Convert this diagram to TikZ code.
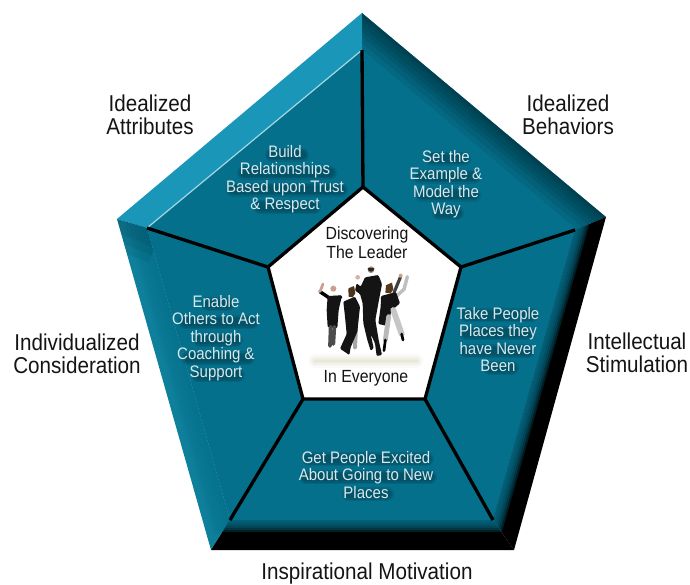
\documentclass[tikz,border=0pt]{standalone}
\usepackage{fontspec}
\setmainfont[FakeStretch=0.9]{Liberation Sans}
\definecolor{face}{HTML}{05708C}
\definecolor{leftbev}{HTML}{0F809C}
\definecolor{topleft}{HTML}{1A96B9}
\definecolor{glint}{HTML}{A5D6E2}
\definecolor{paneltext}{HTML}{D8E8EC}
\definecolor{labeltext}{HTML}{141414}
\definecolor{skin}{HTML}{C9A08C}
\tikzset{
  outerlabel/.style={font=\fontsize{17.2}{17.25}\selectfont,text=labeltext,align=center,inner sep=0pt},
  paneltxt/.style={font=\fontsize{12.5}{13.1}\selectfont,text=paneltext,align=center,inner sep=0pt},
  centertxt/.style={font=\fontsize{13.2}{14}\selectfont,text=labeltext,align=center,inner sep=0pt},
  spoke/.style={draw=black,line width=2.5pt},
  suit/.style={fill=black!92,draw=none,rounded corners=0.8pt},
}
\newcommand{\halo}[3]{% x1 x2 y
  \foreach \w in {14,11,8}{\draw[line width=\w*0.75pt,line cap=round,black,opacity=.09] (#1+2,#3+2) -- (#2+2,#3+2);}
}
\begin{document}
\begin{tikzpicture}[x=0.75pt,y=-0.75pt]
\useasboundingbox (0,0) rectangle (690,585);
% outer pentagon
\coordinate (T) at (362,13);
\coordinate (R) at (606,217);
\coordinate (BR) at (514,550);
\coordinate (BL) at (211,550);
\coordinate (L) at (117,219);
% face corners
\coordinate (t) at (362,50);
\coordinate (r) at (575,230);
\coordinate (br) at (493,520);
\coordinate (bl) at (230,520);
\coordinate (l) at (147,228);
% centre corners
\coordinate (ct) at (363,187);
\coordinate (cr) at (461,267);
\coordinate (cbr) at (425,399);
\coordinate (cbl) at (303,399);
\coordinate (cl) at (268,267);
% face and upper right bevel share one colour
\fill[face] (T) -- (R) -- (r) -- (br) -- (bl) -- (l) -- (t) -- cycle;
% top left bevel
\fill[topleft] (L) -- (T) -- (t) -- (l) -- cycle;
% left bevel
\fill[leftbev] (L) -- (l) -- (bl) -- (BL) -- cycle;
\begin{scope}
  \clip (L) -- (l) -- (bl) -- (BL) -- cycle;
  \foreach \w in {40,35,30,25,20,15,10,5}{\draw[line width=\w*0.75pt,face,opacity=.16] (142,210) -- (232,530);}
  \foreach \w in {60,44,28}{\draw[line width=\w*0.75pt,black,opacity=.05] (105,212) -- (160,235);}
\end{scope}
% black bevels fading in from the face
\fill[black] (BL) -- (bl) -- (br) -- (BR) -- cycle;
\fill[black] (BR) -- (br) -- (r) -- (R) -- cycle;
\begin{scope}
  \clip (BL) -- (bl) -- (br) -- (BR) -- cycle;
  \foreach \w in {24,20,16,12,8,4}{\draw[line width=\w*0.75pt,face,opacity=.28] (205,520) -- (520,520);}
\end{scope}
\begin{scope}
  \clip (BR) -- (br) -- (r) -- (R) -- cycle;
  \foreach \w in {24,20,16,12,8,4}{\draw[line width=\w*0.75pt,face,opacity=.28] (586,192) -- (483,555);}
\end{scope}
% dark edge of the upper right bevel
\begin{scope}
  \clip (T) -- (R) -- (r) -- (t) -- cycle;
  \foreach \w in {56,46,36,28,20,12,6}{\draw[line width=\w*0.75pt,black,opacity=.07] (T) -- (R);}
\end{scope}
\draw[glint,line width=0.9pt] (l) -- (t);
% text halos
\halo{270}{300}{153}\halo{242}{328}{171}\halo{231}{339}{188}\halo{258}{312}{205}
\halo{430}{462}{157}\halo{418}{472}{175}\halo{420}{472}{193}\halo{437}{455}{211}
\halo{206}{226}{302}\halo{183}{250}{320}\halo{198}{234}{338}\halo{186}{246}{356}\halo{196}{236}{373}
\halo{464}{530}{313}\halo{464}{526}{331}\halo{464}{526}{349}\halo{488}{510}{366}
\halo{307}{425}{457}\halo{304}{428}{475}\halo{347}{385}{492}
% spokes
\draw[spoke] (ct) -- (t);
\draw[spoke] (cl) -- (l);
\draw[spoke] (cr) -- (r);
\draw[spoke] (cbr) -- (br);
\draw[spoke] (cbl) -- (bl);
% centre
\filldraw[fill=white,draw=black,line width=2.5pt,line join=miter] (ct) -- (cr) -- (cbr) -- (cbl) -- (cl) -- cycle;
% jumping people, in the 3x crop's coordinates
\begin{scope}[shift={(310,260)},x=0.25pt,y=-0.25pt]
  \foreach \o/\h in {.05/40,.05/30,.06/22,.07/14,.07/7}{\draw[line width=\h*0.25pt,yellow!30!gray,opacity=\o,line cap=round] (15,303) -- (320,303);}
  % right woman
  \draw[gray!50,line width=2.6pt,line cap=round,line join=round] (292,50) -- (282,88) -- (255,112);
  \draw[black!75,line width=2.4pt,line cap=round] (271,52) -- (252,98);
  \fill[skin] (272,47) circle (6);
  \fill[skin] (238,80) circle (9);
  \fill[black!55!brown] (228,76) -- (246,68) -- (250,88) -- (242,100) -- (226,98) -- cycle;
  \fill[suit] (213,108) -- (258,96) -- (270,130) -- (244,152) -- (234,198) -- (205,192) -- (212,140) -- cycle;
  \draw[gray!45,line width=4.4pt,line cap=round] (250,150) -- (275,222);
  \draw[gray!55,line width=3.6pt,line cap=round] (236,170) -- (226,240);
  \draw[black,line width=2pt,line cap=round] (275,222) -- (279,240);
  \draw[black,line width=2pt,line cap=round] (226,240) -- (222,272);
  % left woman
  \fill[skin] (70,86) circle (9);
  \draw[black,line width=2.6pt,line cap=round,line join=round] (30,95) -- (58,114) -- (92,112);
  \draw[skin,line width=2pt,line cap=round] (39,72) -- (30,95);
  \fill[suit] (53,108) -- (96,106) -- (86,150) -- (82,204) -- (53,202) -- (50,150) -- cycle;
  \draw[black!70,line width=2.8pt,line cap=round] (62,200) -- (60,258);
  \draw[black!70,line width=2.8pt,line cap=round] (73,200) -- (70,252);
  % middle woman
  \draw[gray!70,line width=3pt,line cap=round] (138,200) -- (135,262);
  \fill[skin] (125,90) circle (10);
  \fill[black!60!brown] (115,86) -- (132,78) -- (136,100) -- (128,112) -- (116,110) -- cycle;
  \fill[suit] (100,125) -- (135,110) -- (150,140) -- (142,215) -- (122,262) -- (118,285) -- (90,266) -- (110,222) -- (105,170) -- cycle;
  % leader
  \fill[suit] (165,52) -- (205,45) -- (216,72) -- (206,125) -- (196,180) -- (206,240) -- (216,285) -- (200,288) -- (195,250) -- (182,222) -- (191,265) -- (182,272) -- (172,240) -- (160,190) -- (158,130) -- (150,102) -- (135,92) -- (140,70) -- (152,80) -- cycle;
  \fill[skin!80] (143,52) circle (7);
  \fill[skin!80!black] (183,29) circle (10);
  \fill[black!85] (173,24) arc[start angle=180,end angle=0,x radius=10,y radius=11] -- cycle;
\end{scope}
% labels
\node[centertxt] (cTop) at (367,242.5) {Discovering\\The Leader};
\node[centertxt] (cBot) at (366,378) {In Everyone};
\node[paneltxt] (p1) at (285,179) {Build\\Relationships\\Based upon Trust\\\& Respect};
\node[paneltxt] (p2) at (446,184) {Set the\\Example \&\\Model the\\Way};
\node[paneltxt] (p3) at (216,338) {Enable\\Others to Act\\through\\Coaching \&\\Support};
\node[paneltxt] (p4) at (498,339.5) {Take People\\Places they\\have Never\\Been};
\node[paneltxt] (p5) at (366,475) {Get People Excited\\About Going to New\\Places};
\node[outerlabel] (o1) at (150,115) {Idealized\\Attributes};
\node[outerlabel] (o2) at (568,115) {Idealized\\Behaviors};
\node[outerlabel] (o3) at (77,354) {Individualized\\Consideration};
\node[outerlabel] (o4) at (637,353) {Intellectual\\Stimulation};
\node[outerlabel] (o5) at (367,574) {Inspirational Motivation};
\end{tikzpicture}
\end{document}
